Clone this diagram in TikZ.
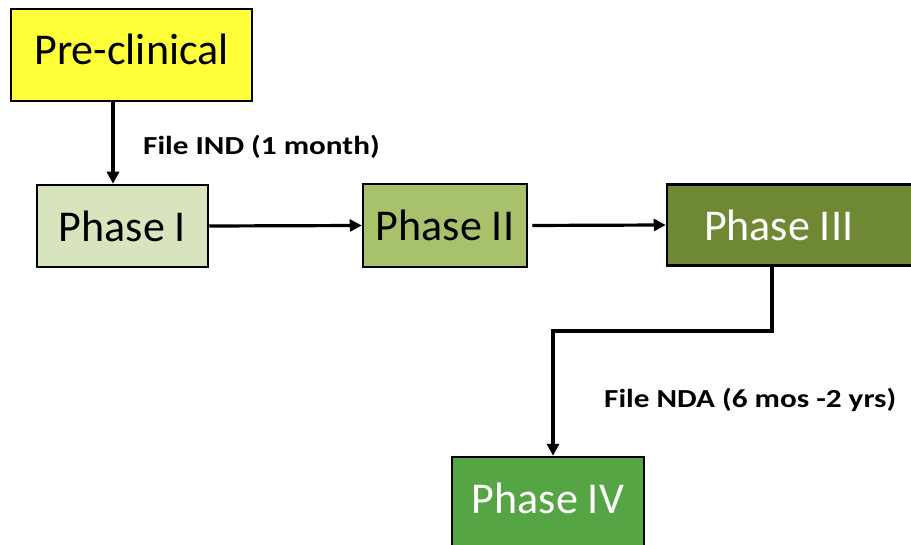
\documentclass[tikz,border=0pt]{standalone}
\usepackage{fontspec}
\setmainfont{Carlito}
\usetikzlibrary{arrows.meta}
\definecolor{cpre}{HTML}{FFFF3A}
\definecolor{cp1}{HTML}{D7E4BD}
\definecolor{cp2}{HTML}{A8C26B}
\definecolor{cp3}{HTML}{6E8833}
\definecolor{cp4}{HTML}{56A545}
\tikzset{
  stagebox/.style={draw=black, line width=2.5pt, inner sep=0pt, font=\fontsize{44}{48}\selectfont},
  flowarrow/.style={draw=black, line width=3.2pt, -{Triangle[length=12pt,width=12pt]}},
  steplabel/.style={font=\bfseries\fontsize{26}{28}\selectfont, anchor=west, inner sep=0pt}
}
\begin{document}
\begin{tikzpicture}[x=1pt,y=-1pt]
\useasboundingbox (0,0) rectangle (911,545);
\node[stagebox, fill=cpre, minimum width=241pt, minimum height=92pt, text depth=12pt] (pre) at (131.5,55) {Pre-clinical};
\node[stagebox, fill=cp1, minimum width=171pt, minimum height=82pt] (p1) at (122.5,226) {Phase I};
\node[stagebox, fill=cp2, minimum width=164pt, minimum height=83pt] (p2) at (445,225.5) {Phase II};
\node[stagebox, fill=cp3, text=white, minimum width=250pt, minimum height=81pt] (p3) at (792,225) {\makebox[176pt][l]{Phase III}};
\node[stagebox, fill=cp4, text=white, minimum width=192pt, minimum height=92pt, text depth=10pt] (p4) at (548,503) {Phase IV};
\coordinate (a1) at (113,0);
\draw[flowarrow] (pre.south -| a1) -- (p1.north -| a1);
\node[steplabel] (l1) at (143,147) {\scalebox{1.2}[1]{File IND (1 month)}};
\draw[flowarrow] (p1.east) -- (p2.west);
\draw[flowarrow, shorten <=4pt] (p2.east) -- (p3.west);
\coordinate (b1) at (772,331);
\coordinate (b2) at (553,331);
\draw[flowarrow] (p3.south -| b1) -- (b1) -- (b2) -- (b2 |- p4.north);
\node[steplabel] (l2) at (604,400) {\scalebox{1.2}[1]{File NDA (6 mos -2 yrs)}};
\end{tikzpicture}
\end{document}
